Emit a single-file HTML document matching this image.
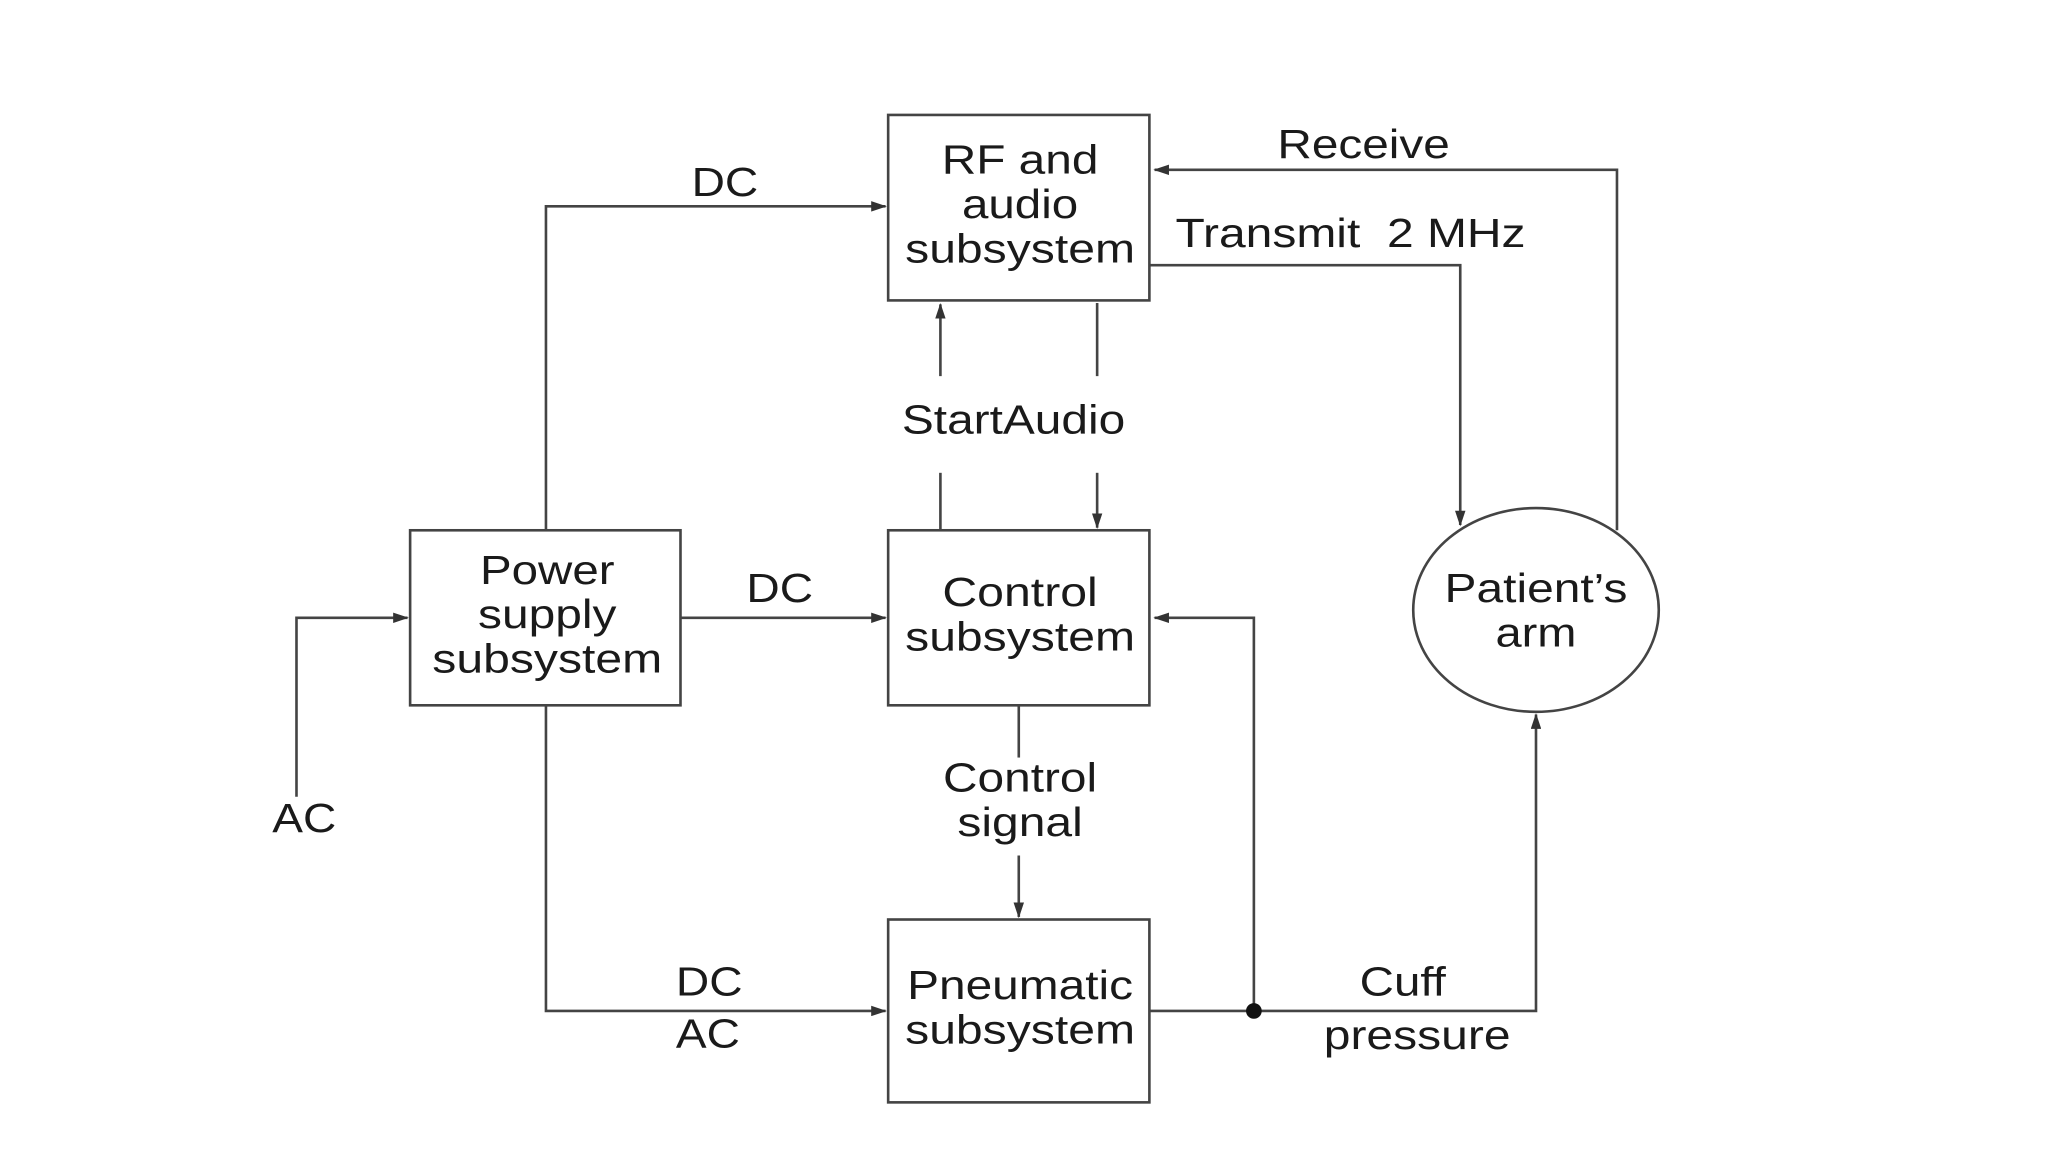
<!DOCTYPE html>
<html><head><meta charset="utf-8"><style>html,body{margin:0;padding:0;background:#fff;}svg{display:block}</style></head>
<body>
<svg width="2048" height="1152" viewBox="0 0 1568 882" preserveAspectRatio="none" xmlns="http://www.w3.org/2000/svg">
<defs><marker id="a" markerWidth="12" markerHeight="8" refX="11" refY="4" orient="auto" markerUnits="userSpaceOnUse"><path d="M0,0 L12,4 L0,8 Z" fill="#333"/></marker></defs>
<rect width="1568" height="882" fill="#fff"/>
<g fill="none" stroke="#444" stroke-width="2">
<rect x="680" y="88" width="200" height="142"/>
<rect x="314" y="406" width="207" height="134"/>
<rect x="680" y="406" width="200" height="134"/>
<rect x="680" y="704" width="200" height="140"/>
<ellipse cx="1176" cy="467" rx="94" ry="78"/>
<polyline points="418,406 418,158 678,158" marker-end="url(#a)"/>
<polyline points="1238,406 1238,130 884,130" marker-end="url(#a)"/>
<polyline points="880,203 1118,203 1118,402" marker-end="url(#a)"/>
<line x1="720" y1="288" x2="720" y2="233" marker-end="url(#a)"/>
<line x1="720" y1="362" x2="720" y2="406"/>
<line x1="840" y1="232" x2="840" y2="288"/>
<line x1="840" y1="362" x2="840" y2="404" marker-end="url(#a)"/>
<line x1="521" y1="473" x2="678" y2="473" marker-end="url(#a)"/>
<polyline points="227,610 227,473 312,473" marker-end="url(#a)"/>
<polyline points="418,540 418,774 678,774" marker-end="url(#a)"/>
<line x1="780" y1="540" x2="780" y2="580"/>
<line x1="780" y1="655" x2="780" y2="702" marker-end="url(#a)"/>
<polyline points="880,774 1176,774 1176,547" marker-end="url(#a)"/>
<polyline points="960,774 960,473 884,473" marker-end="url(#a)"/>
</g>
<circle cx="960" cy="774" r="6" fill="#111"/>
<g font-family="Liberation Sans, sans-serif" font-size="31" fill="#1a1a1a" text-anchor="middle" lengthAdjust="spacingAndGlyphs">
<text x="781" y="133" textLength="120" lengthAdjust="spacingAndGlyphs">RF and</text>
<text x="781" y="167" textLength="89" lengthAdjust="spacingAndGlyphs">audio</text>
<text x="781" y="201" textLength="176" lengthAdjust="spacingAndGlyphs">subsystem</text>
<text x="419" y="447" textLength="103" lengthAdjust="spacingAndGlyphs">Power</text>
<text x="419" y="481" textLength="106" lengthAdjust="spacingAndGlyphs">supply</text>
<text x="419" y="515" textLength="176" lengthAdjust="spacingAndGlyphs">subsystem</text>
<text x="781" y="464" textLength="119" lengthAdjust="spacingAndGlyphs">Control</text>
<text x="781" y="498" textLength="176" lengthAdjust="spacingAndGlyphs">subsystem</text>
<text x="781" y="765" textLength="173" lengthAdjust="spacingAndGlyphs">Pneumatic</text>
<text x="781" y="799" textLength="176" lengthAdjust="spacingAndGlyphs">subsystem</text>
<text x="1176" y="461" textLength="140" lengthAdjust="spacingAndGlyphs">Patient’s</text>
<text x="1176" y="495" textLength="62" lengthAdjust="spacingAndGlyphs">arm</text>
<text x="555" y="150" textLength="51" lengthAdjust="spacingAndGlyphs">DC</text>
<text x="1044" y="121" textLength="132" lengthAdjust="spacingAndGlyphs">Receive</text>
<text x="1034" y="189" textLength="268" lengthAdjust="spacingAndGlyphs" xml:space="preserve">Transmit  2 MHz</text>
<text x="776" y="332" textLength="171" lengthAdjust="spacingAndGlyphs">StartAudio</text>
<text x="597" y="461" textLength="51" lengthAdjust="spacingAndGlyphs">DC</text>
<text x="233" y="637" textLength="49" lengthAdjust="spacingAndGlyphs">AC</text>
<text x="543" y="762" textLength="51" lengthAdjust="spacingAndGlyphs">DC</text>
<text x="542" y="802" textLength="49" lengthAdjust="spacingAndGlyphs">AC</text>
<text x="781" y="606" textLength="118" lengthAdjust="spacingAndGlyphs">Control</text>
<text x="781" y="640" textLength="96" lengthAdjust="spacingAndGlyphs">signal</text>
<text x="1074" y="762" textLength="66" lengthAdjust="spacingAndGlyphs">Cuff</text>
<text x="1085" y="803" textLength="143" lengthAdjust="spacingAndGlyphs">pressure</text>
</g>
</svg>
</body></html>
